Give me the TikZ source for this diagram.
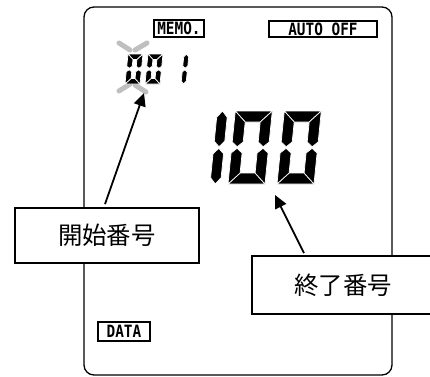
\documentclass[tikz,border=0pt]{standalone}
\usepackage{fontspec}
\newfontfamily\jpfont{Noto Sans CJK JP}
\newfontfamily\lcdfont{DejaVu Sans Mono}[FakeStretch=0.85]
\usetikzlibrary{arrows.meta}
\tikzset{
  seg/.style={fill=black, draw=white, line width=0.7bp, line join=miter},
  graybar/.style={line width=5bp, line cap=round, draw=black!25},
  tagbox/.style={draw, line width=1.3bp, inner sep=0pt,
    font=\lcdfont\bfseries\fontsize{17}{17}\selectfont},
  labelbox/.style={draw, fill=white, line width=1.8bp, inner sep=0pt,
    font=\jpfont\fontsize{24.5}{24.5}\selectfont},
  arr/.style={line width=1.8bp, -{Triangle[length=13bp,width=12bp]}},
  lcdframe/.style={draw, line width=1.3bp, rounded corners=10bp}
}
% seven-segment "0": #1 x, #2 y (bottom), #3 width, #4 height, #5 thickness
\newcommand\sevzero[5]{%
\begin{scope}[shift={(#1,#2)},x=1bp,y=1bp,xslant=0.1]
\pgfmathsetmacro\dW{#3}\pgfmathsetmacro\dH{#4}\pgfmathsetmacro\dT{#5}
\path[seg] (0,\dH) -- (\dW,\dH) -- (\dW-\dT,\dH-\dT) -- (\dT,\dH-\dT) -- cycle;
\path[seg] (0,0) -- (\dW,0) -- (\dW-\dT,\dT) -- (\dT,\dT) -- cycle;
\path[seg] (0,\dH) -- (\dT,\dH-\dT) -- (\dT,\dH/2+\dT/2) -- (\dT/2,\dH/2+0.8) -- (0,\dH/2+\dT/2) -- cycle;
\path[seg] (0,0) -- (\dT,\dT) -- (\dT,\dH/2-\dT/2) -- (\dT/2,\dH/2-0.8) -- (0,\dH/2-\dT/2) -- cycle;
\path[seg] (\dW,\dH) -- (\dW,\dH/2+\dT/2) -- (\dW-\dT/2,\dH/2+0.8) -- (\dW-\dT,\dH/2+\dT/2) -- (\dW-\dT,\dH-\dT) -- cycle;
\path[seg] (\dW,0) -- (\dW,\dH/2-\dT/2) -- (\dW-\dT/2,\dH/2-0.8) -- (\dW-\dT,\dH/2-\dT/2) -- (\dW-\dT,\dT) -- cycle;
\end{scope}}
% seven-segment "1": #1 x, #2 y (bottom), #3 height, #4 thickness
\newcommand\sevone[4]{%
\begin{scope}[shift={(#1,#2)},x=1bp,y=1bp,xslant=0.1]
\pgfmathsetmacro\dH{#3}\pgfmathsetmacro\dT{#4}\pgfmathsetmacro\dL{#4*0.6}
\path[seg] (\dT/2,\dH) -- (\dT,\dH-\dL) -- (\dT,\dH/2+\dL) -- (\dT/2,\dH/2+0.8) -- (0,\dH/2+\dL) -- (0,\dH-\dL) -- cycle;
\path[seg] (\dT/2,0) -- (\dT,\dL) -- (\dT,\dH/2-\dL) -- (\dT/2,\dH/2-0.8) -- (0,\dH/2-\dL) -- (0,\dL) -- cycle;
\end{scope}}
\begin{document}
\begin{tikzpicture}[x=1bp,y=-1bp]
\useasboundingbox (0,0) rectangle (430,377);
% LCD frame
\path[lcdframe] (84,7) rectangle (392,375);
% indicator tags
\node[tagbox, minimum width=50bp, minimum height=17bp] (memo) at (179,28.5) {MEMO.};
\node[tagbox, minimum width=108bp, minimum height=16bp] (auto) at (323,29) {AUTO OFF};
\node[tagbox, minimum width=52bp, minimum height=19bp] (data) at (124,331.5) {DATA};
% blinking marks
\draw[graybar] (119,43) -- (130,50);
\draw[graybar] (135,50) -- (147,43);
\draw[graybar] (119,91) -- (130,84);
\draw[graybar] (135,85) -- (146,92);
% small digits 001
\sevzero{125}{84}{15}{30}{5.5}
\sevzero{145}{84}{15}{30}{5.5}
\sevone{181}{84}{30}{5}
% big digits 100
\sevone{210}{184}{73}{10.5}
\sevzero{228}{184}{37}{73}{11}
\sevzero{277}{184}{37}{73}{11}
% labels
\node[labelbox, minimum width=184bp, minimum height=55bp] (start) at (107,235.5) {開始番号};
\node[labelbox, minimum width=182bp, minimum height=58bp] (end) at (343,285) {終了番号};
% arrows
\coordinate (tipA) at (144,93);
\coordinate (tipB) at (275,195);
\draw[arr] ([xshift=-2bp,yshift=3bp]start.north) -- (tipA);
\draw[arr] ([xshift=-39bp,yshift=2bp]end.north) -- (tipB);
\end{tikzpicture}
\end{document}
